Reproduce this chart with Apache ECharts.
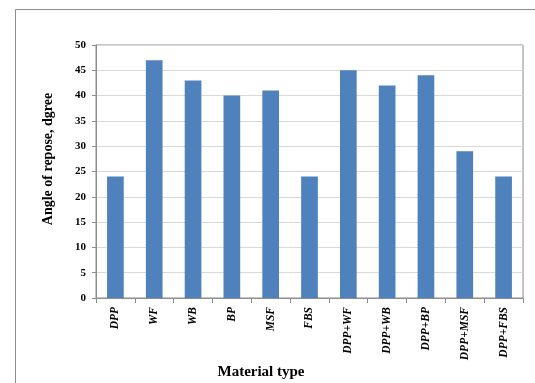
<!DOCTYPE html>
<html>
<head>
<meta charset="utf-8">
<style>
  html, body { margin: 0; padding: 0; background: #fff; }
  #chart { width: 535px; height: 383px; }
</style>
<script src="https://cdn.jsdelivr.net/npm/echarts@6/dist/echarts.min.js"></script>
</head>
<body>
<div id="chart"></div>
<script>
// Angle of repose for each material and blend
const categories = ['DPP', 'WF', 'WB', 'BP', 'MSF', 'FBS', 'DPP+WF', 'DPP+WB', 'DPP+BP', 'DPP+MSF', 'DPP+FBS'];
const angleValues = [24, 47, 43, 40, 41, 24, 45, 42, 44, 29, 24];
const yAxisTitle = 'Angle of repose, dgree';
const xAxisTitle = 'Material type';

const serif = '"Liberation Serif", "Times New Roman", serif';
const chart = echarts.init(document.getElementById('chart'));

chart.setOption({
  animation: false,
  backgroundColor: '#fff',
  grid: {
    left: 96, right: 12, top: 45, bottom: 85,
    show: true, borderColor: '#8c8c8c', borderWidth: 1
  },
  graphic: [
    {
      type: 'rect', silent: true,
      shape: { x: 15.5, y: 9.5, width: 560, height: 400 },
      style: { fill: 'none', stroke: '#8c8c8c', lineWidth: 1 }
    },
    {
      type: 'text', silent: true,
      x: 48, y: 159, rotation: Math.PI / 2,
      style: {
        text: yAxisTitle, fontFamily: serif, fontWeight: 'bold', fontSize: 14,
        fill: '#000', align: 'center', verticalAlign: 'middle'
      }
    },
    {
      type: 'text', silent: true,
      x: 261, y: 372,
      style: {
        text: xAxisTitle, fontFamily: serif, fontWeight: 'bold', fontSize: 15,
        fill: '#000', align: 'center', verticalAlign: 'middle'
      }
    }
  ],
  xAxis: {
    type: 'category',
    data: categories,
    axisLine: { show: true, lineStyle: { color: '#8c8c8c' } },
    axisTick: { show: true, alignWithLabel: false, length: 5, lineStyle: { color: '#8c8c8c' } },
    axisLabel: {
      rotate: 90, interval: 0, margin: 9,
      fontFamily: serif, fontWeight: 'bold', fontStyle: 'italic', fontSize: 11.5, color: '#000'
    },
    splitLine: { show: false }
  },
  yAxis: {
    type: 'value',
    min: 0, max: 50, interval: 5,
    axisLine: { show: true, lineStyle: { color: '#8c8c8c' } },
    axisTick: { show: true, length: 4, lineStyle: { color: '#8c8c8c' } },
    axisLabel: {
      margin: 10,
      fontFamily: serif, fontWeight: 'bold', fontSize: 11, color: '#000'
    },
    splitLine: { show: true, lineStyle: { color: '#d9d9d9', width: 1 } }
  },
  series: [{
    type: 'bar',
    data: angleValues,
    barWidth: '43%',
    itemStyle: { color: '#4f81bd' }
  }]
});
</script>
</body>
</html>
